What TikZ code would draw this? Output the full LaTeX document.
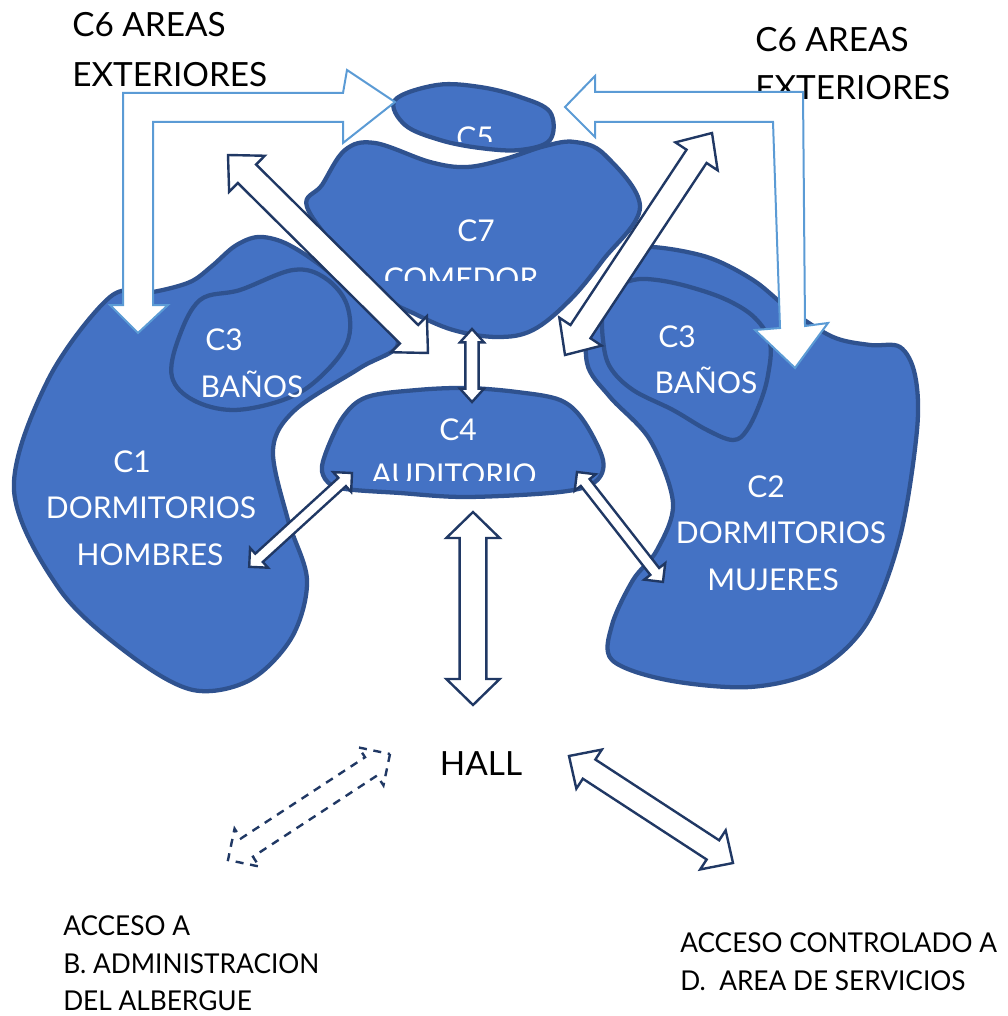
\documentclass[tikz,border=0pt]{standalone}
\usepackage{fontspec}
\setmainfont{Lato}
\newfontfamily\narrowfont[FakeStretch=0.96]{Lato}
\usetikzlibrary{calc}
\definecolor{blobfill}{HTML}{4472C4}
\definecolor{blobline}{HTML}{2F528F}
\definecolor{navy}{HTML}{203864}
\definecolor{skyline}{HTML}{5B9BD5}
% #1 options, #2 start, #3 end, #4 shaft half width, #5 head half width, #6 head length
\newcommand\blockarrow[6][]{%
  \draw[#1] let \p1=(#2), \p2=(#3), \n1={atan2(\y2-\y1,\x2-\x1)}, \n2={veclen(\x2-\x1,\y2-\y1)} in
    ([shift={(\p1)},rotate=\n1]0pt,0pt)
    -- ([shift={(\p1)},rotate=\n1]#6,#5)
    -- ([shift={(\p1)},rotate=\n1]#6,#4)
    -- ([shift={(\p1)},rotate=\n1]{\n2-#6},#4)
    -- ([shift={(\p1)},rotate=\n1]{\n2-#6},#5)
    -- ([shift={(\p1)},rotate=\n1]{\n2},0pt)
    -- ([shift={(\p1)},rotate=\n1]{\n2-#6},-#5)
    -- ([shift={(\p1)},rotate=\n1]{\n2-#6},-#4)
    -- ([shift={(\p1)},rotate=\n1]#6,-#4)
    -- ([shift={(\p1)},rotate=\n1]#6,-#5)
    -- cycle;}
\begin{document}
\begin{tikzpicture}[x=0.75pt,y=-0.75pt,
  blob/.style={fill=blobfill, draw=blobline, line width=3.2pt, line join=round},
  lbl/.style={text=white, font=\fontsize{22.5}{24}\selectfont, inner sep=0pt, anchor=base},
  ttl/.style={text=black, font=\fontsize{25}{28}\selectfont, inner sep=0pt, anchor=base west},
  foot/.style={text=black, font=\narrowfont\fontsize{20.5}{22}\selectfont, inner sep=0pt, anchor=base west},
  navyarrow/.style={draw=navy, fill=white, line width=1.8pt, line join=miter},
  dasharrow/.style={draw=navy, line width=1.8pt, dash pattern=on 6pt off 5pt},
  skyarrow/.style={draw=skyline, fill=white, line width=1.5pt, line join=miter}]
\useasboundingbox (0,0) rectangle (1007,1016);

% ---------- titles ----------
\node[ttl] (c6l1) at (72,37) {C6 AREAS};
\node[ttl] (c6l2) at (72,87) {EXTERIORES};
\node[ttl] (c6r1) at (755,52) {C6 AREAS};
\node[ttl] (c6r2) at (755,100) {EXTERIORES};

% ---------- blobs ----------
\path[blob] plot[smooth cycle, tension=0.6] coordinates {(307,207) (322,185) (345,150) (375,143) (430,162) (467,167) (505,159) (545,146) (575,142) (605,155) (640,207) (603,260) (570,300) (533,330) (497,337) (453,330) (413,313) (390,300) (347,260)};
\path[blob] plot[smooth cycle, tension=0.6] coordinates {(395,100) (437,85) (480,87) (520,97) (550,112) (550,140) (520,150) (480,148) (440,140) (405,125)};
\path[blob] plot[smooth cycle, tension=0.55] coordinates {(110,297) (153,292) (190,282) (212,266) (235,246) (258,237) (285,243) (320,265) (360,300) (398,343) (360,368) (295,410) (273,450) (288,520) (307,580) (292,637) (250,680) (193,690) (130,655) (60,590) (14,490) (48,380)};
\path[blob] plot[smooth cycle, tension=0.6] coordinates {(200,300) (240,290) (293,270) (325,278) (347,305) (347,343) (317,380) (283,400) (233,410) (193,400) (172,377) (178,340)};
\path[blob] plot[smooth cycle, tension=0.55] coordinates {(627,257) (650,247) (707,257) (753,280) (790,310) (833,337) (870,345) (900,347) (915,375) (917,430) (900,537) (867,623) (817,670) (750,687) (667,680) (612,660) (612,625) (633,580) (657,550) (673,503) (650,440) (610,397) (587,363) (592,310)};
\path[blob] plot[smooth cycle, tension=0.6] coordinates {(613,290) (633,280) (657,280) (690,287) (727,300) (755,318) (770,343) (768,375) (760,403) (747,430) (733,440) (707,430) (673,410) (633,390) (610,367) (603,340) (603,310)};
\path[blob] plot[smooth cycle, tension=0.55] coordinates {(325,455) (343,417) (367,397) (417,390) (467,388) (517,392) (560,400) (583,420) (603,460) (595,482) (560,492) (467,497) (400,493) (340,488) (323,475)};

% ---------- labels ----------
\begin{scope}
  \clip (380,100) rectangle (560,142);
  \node[lbl] (c5) at (475,149) {C5};
\end{scope}
\node[lbl] (c7) at (476,242) {C7};
\begin{scope}
  \clip (360,250) rectangle (580,280);
  \node[lbl] (c7b) at (461,289) {COMEDOR};
\end{scope}
\node[lbl] (c4) at (458,440) {C4};
\begin{scope}
  \clip (340,450) rectangle (580,480);
  \node[lbl] (c4b) at (454,485) {AUDITORIO};
\end{scope}
\node[lbl] (c3l) at (224,350) {C3};
\node[lbl] (c3lb) at (252,397) {BAÑOS};
\node[lbl] (c1) at (132,472) {C1};
\node[lbl] (c1b) at (151,518) {DORMITORIOS};
\node[lbl] (c1c) at (150,565) {HOMBRES};
\node[lbl] (c3r) at (677,347) {C3};
\node[lbl] (c3rb) at (706,393) {BAÑOS};
\node[lbl] (c2) at (766,497) {C2};
\node[lbl] (c2b) at (781,543) {DORMITORIOS};
\node[lbl] (c2c) at (773,590) {MUJERES};
\node[ttl, anchor=base] (hall) at (481,775) {HALL};
\node[foot] (adm1) at (63,935) {ACCESO A};
\node[foot] (adm2) at (63,973) {B. ADMINISTRACION};
\node[foot] (adm3) at (63,1010) {DEL ALBERGUE};
\node[foot] (srv1) at (680,952) {ACCESO CONTROLADO A};
\node[foot] (srv2) at (680,990) {D.\ \ AREA DE SERVICIOS};

% ---------- exterior (C6) bent arrows ----------
\path[skyarrow] (123,93) -- (343,93) -- (347,70) -- (395,102) -- (343,143) -- (343,122)
  -- (153,122) -- (153,305) -- (168,305) -- (138,333) -- (110,305) -- (123,305) -- cycle;
\path[skyarrow] (803,92) -- (595,92) -- (595,76) -- (565,107) -- (595,137) -- (595,122)
  -- (773,122) -- (780,328) -- (755,330) -- (795,368) -- (828,323) -- (805,326) -- cycle;

% ---------- connector end points ----------
\coordinate (a1s) at (228,155); \coordinate (a1e) at (428,353);
\coordinate (a2s) at (565,355); \coordinate (a2e) at (712,133);
\coordinate (a3s) at (472,329); \coordinate (a3e) at (472,402);
\coordinate (a4s) at (352,473); \coordinate (a4e) at (249,567);
\coordinate (a5s) at (577,472); \coordinate (a5e) at (663,582);
\coordinate (a6s) at (473,512); \coordinate (a6e) at (473,705);
\coordinate (a7s) at (569,756); \coordinate (a7e) at (733,863);
\coordinate (a8s) at (390,754); \coordinate (a8e) at (228,860);

\blockarrow[navyarrow]{a1s}{a1e}{9.75pt}{19pt}{20pt}
\blockarrow[navyarrow]{a2s}{a2e}{9pt}{19pt}{21pt}
\blockarrow[navyarrow]{a3s}{a3e}{5pt}{9pt}{10pt}
\blockarrow[navyarrow]{a4s}{a4e}{4.2pt}{10pt}{10pt}
\blockarrow[navyarrow]{a5s}{a5e}{4.2pt}{10pt}{10pt}
\blockarrow[navyarrow]{a6s}{a6e}{10pt}{20pt}{19.5pt}
\blockarrow[navyarrow]{a7s}{a7e}{8.6pt}{17.5pt}{18pt}
\blockarrow[dasharrow]{a8s}{a8e}{8.2pt}{17pt}{17pt}
\end{tikzpicture}
\end{document}
